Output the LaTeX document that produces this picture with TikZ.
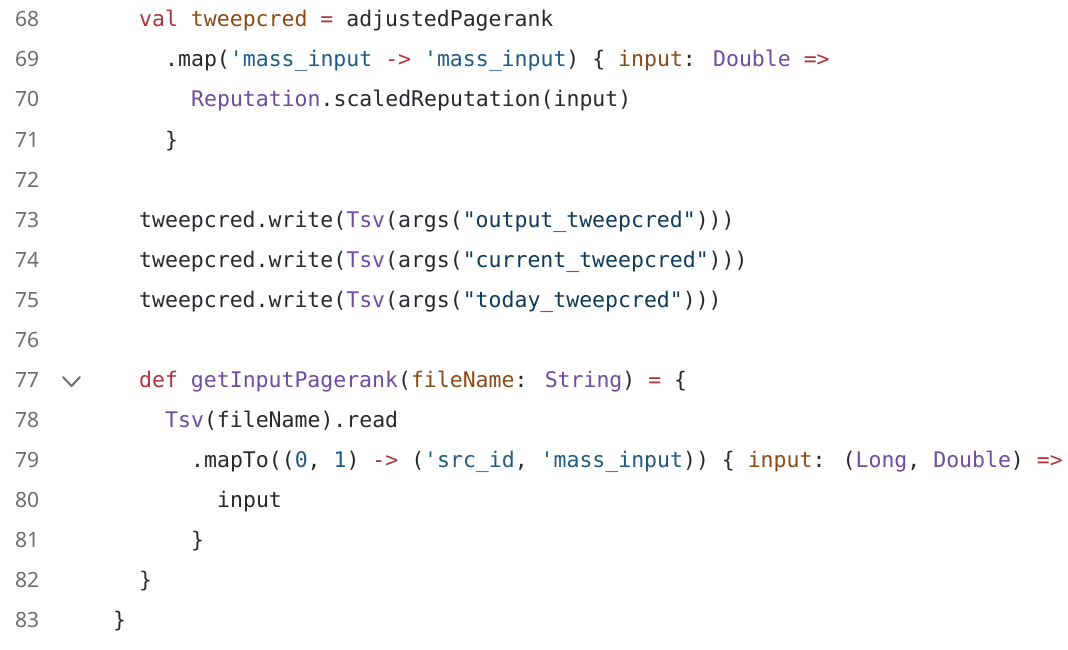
\documentclass[tikz,border=0pt]{standalone}
\usepackage{fontspec}
\newfontfamily\codefont[WordSpace={1,0,0}]{DejaVu Sans Mono}
\newfontfamily\numfont{Noto Sans}
\definecolor{kwred}{HTML}{B0323E}
\definecolor{varbrown}{HTML}{8A4B14}
\definecolor{typpurple}{HTML}{6F4C9E}
\definecolor{symblue}{HTML}{1F5C85}
\definecolor{strnavy}{HTML}{0E3A5B}
\definecolor{plain}{HTML}{262A2E}
\definecolor{numgray}{HTML}{6E6E6E}
\newcommand\cKw[1]{\textcolor{kwred}{#1}}
\newcommand\cVar[1]{\textcolor{varbrown}{#1}}
\newcommand\cTyp[1]{\textcolor{typpurple}{#1}}
\newcommand\cSym[1]{\textcolor{symblue}{#1}}
\newcommand\cStr[1]{\textcolor{strnavy}{#1}}
\tikzset{
  code/.style={anchor=base west,inner sep=0pt,text=plain,font=\codefont\fontsize{21.5}{26}\selectfont},
  lnum/.style={anchor=base west,inner sep=0pt,text=numgray,font=\numfont\fontsize{21}{26}\selectfont}
}
\begin{document}
\begin{tikzpicture}[x=1pt,y=1pt]
                \fill[white] (0,0) rectangle (1068,-650);
                \useasboundingbox (0,0) rectangle (1068,-650);
                % line numbers
                \foreach \n [count=\i from 0] in {68,...,83}
                  \node[lnum] (n\n) at (15,{-27-40*\i}) {\n};
                % fold marker
                \draw[numgray,line width=2pt,line cap=round,line join=round] (63,-377)--(71.5,-386)--(80,-377);
                % code
                \node[code] (l68) at (139,-27) {\cKw{val} \cVar{tweepcred} \cKw{=} adjustedPagerank};
                \node[code] (l69) at (165,-67) {.map(\cSym{'mass\_input} \cKw{->} \cSym{'mass\_input}) \{ \cVar{input}: \cTyp{Double} \cKw{=>}};
                \node[code] (l70) at (191,-107) {\cTyp{Reputation}.scaledReputation(input)};
                \node[code] (l71) at (165,-147) {\}};
                \node[code] (l73) at (139,-227) {tweepcred.write(\cTyp{Tsv}(args(\cStr{"output\_tweepcred"})))};
                \node[code] (l74) at (139,-267) {tweepcred.write(\cTyp{Tsv}(args(\cStr{"current\_tweepcred"})))};
                \node[code] (l75) at (139,-307) {tweepcred.write(\cTyp{Tsv}(args(\cStr{"today\_tweepcred"})))};
                \node[code] (l77) at (139,-387) {\cKw{def} \cTyp{getInputPagerank}(\cVar{fileName}: \cTyp{String}) \cKw{=} \{};
                \node[code] (l78) at (165,-427) {\cTyp{Tsv}(fileName).read};
                \node[code] (l79) at (191,-467) {.mapTo((\cSym{0}, \cSym{1}) \cKw{->} (\cSym{'src\_id}, \cSym{'mass\_input})) \{ \cVar{input}: (\cTyp{Long}, \cTyp{Double}) \cKw{=>}};
                \node[code] (l80) at (217,-507) {input};
                \node[code] (l81) at (191,-547) {\}};
                \node[code] (l82) at (139,-587) {\}};
                \node[code] (l83) at (113,-627) {\}};
            \end{tikzpicture}
\end{document}
